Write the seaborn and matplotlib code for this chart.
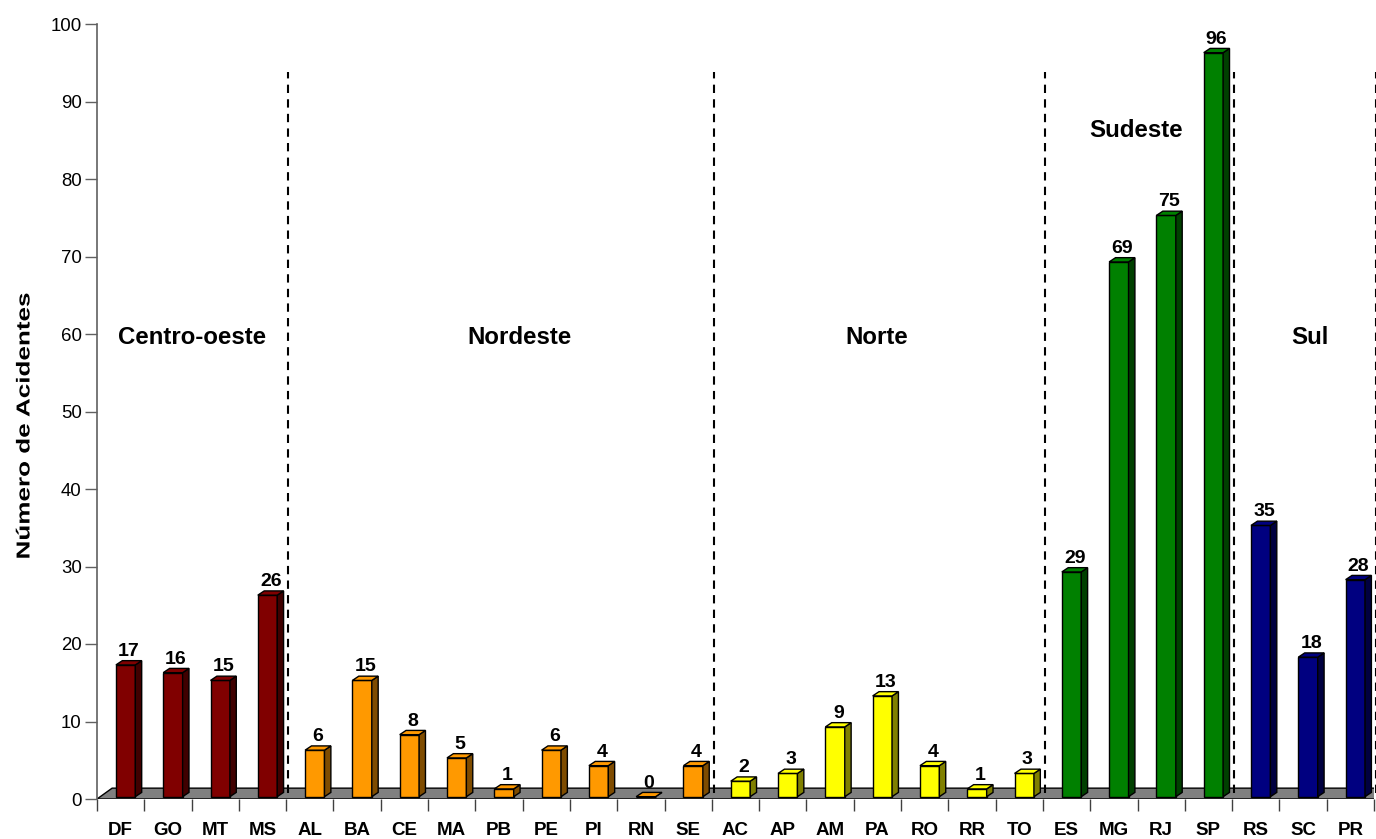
import matplotlib
matplotlib.use("Agg")
import matplotlib.pyplot as plt
from matplotlib.patches import Polygon
from matplotlib.patheffects import AbstractPathEffect
from matplotlib.transforms import Affine2D
import seaborn as sns
import pandas as pd

# Accidents per state, grouped by region
states = ["DF", "GO", "MT", "MS",
          "AL", "BA", "CE", "MA", "PB", "PE", "PI", "RN", "SE",
          "AC", "AP", "AM", "PA", "RO", "RR", "TO",
          "ES", "MG", "RJ", "SP",
          "RS", "SC", "PR"]
accidents = [17, 16, 15, 26,
             6, 15, 8, 5, 1, 6, 4, 0, 4,
             2, 3, 9, 13, 4, 1, 3,
             29, 69, 75, 96,
             35, 18, 28]
regions = (["Centro-oeste"] * 4 + ["Nordeste"] * 9 + ["Norte"] * 7
           + ["Sudeste"] * 4 + ["Sul"] * 3)
region_names = ["Centro-oeste", "Nordeste", "Norte", "Sudeste", "Sul"]
front_colors = ["#800000", "#FF9900", "#FFFF00", "#008000", "#000080"]
side_colors = ["#400000", "#7F4C00", "#808000", "#004000", "#000040"]
y_ticks = list(range(0, 101, 10))

# Region caption placement (x in category units, y in axis units)
caption_x = [1.5, 8.43, 15.99, 21.47, 25.14]
caption_y = [59.5, 59.5, 59.5, 86.3, 59.5]


class Stretch(AbstractPathEffect):
    """Stretch glyphs along the writing direction about the text centre."""

    def __init__(self, factor=1.0):
        super().__init__()
        self.factor = factor

    def draw_path(self, renderer, gc, tpath, affine, rgbFace=None):
        ext = tpath.get_extents()
        cx = 0.5 * (ext.x0 + ext.x1)
        scale = Affine2D().translate(-cx, 0).scale(self.factor, 1).translate(cx, 0)
        renderer.draw_path(gc, tpath, scale + affine, rgbFace)


df = pd.DataFrame({"estado": states, "acidentes": accidents, "regiao": regions})

sns.set_theme(style="white")
plt.rcParams["font.family"] = ["Liberation Sans", "DejaVu Sans"]
plt.rcParams["text.color"] = "black"
plt.rcParams["axes.labelcolor"] = "black"
plt.rcParams["xtick.color"] = "black"
plt.rcParams["ytick.color"] = "black"

fig = plt.figure(figsize=(13.76, 8.39), dpi=100)
ax = fig.add_axes([97 / 1376, 40 / 839, 1277 / 1376, 775 / 839])

# pseudo-3D geometry (data units)
bar_w = 0.41
bar_shift = 0.105    # bars sit a little right of the category centre
lift = 0.3           # bars stand slightly inside the floor
depth_x, depth_y = 0.135, 0.55
floor_dx, floor_dy = 0.32, 1.4
sep_shift = 0.04
n = len(states)

# grey floor slab
floor = Polygon([(-0.5, 0), (n - 0.5, 0), (n - 0.5 + floor_dx, floor_dy),
                 (-0.5 + floor_dx, floor_dy)], closed=True,
                facecolor="#808080", edgecolor="black", linewidth=1.0, zorder=1)
ax.add_patch(floor)

# dashed separators between regions
bounds = []
count = 0
for r in region_names:
    count += regions.count(r)
    bounds.append(count - 0.5 + sep_shift)
for b in bounds:
    ax.plot([b, b], [0.8, 93.8], color="black", linestyle=(0, (4, 3)),
            linewidth=1.5, zorder=2, clip_on=False)

palette = dict(zip(region_names, front_colors))
sns.barplot(data=df, x="estado", y="acidentes", hue="regiao", palette=palette,
            dodge=False, width=bar_w, legend=False, saturation=1,
            edgecolor="black", linewidth=1.0, ax=ax, zorder=3)

side_map = dict(zip(region_names, side_colors))
front_map = dict(zip(region_names, front_colors))
bars = sorted([p for p in ax.patches if p is not floor and p.get_width() > 0],
              key=lambda p: p.get_x())
for i, p in enumerate(bars):
    val = accidents[i]
    x0 = i + bar_shift - bar_w / 2
    p.set_x(x0)
    p.set_y(lift)
    p.set_height(val)
    p.set_zorder(3)
    reg = regions[i]
    top = lift + val
    x1 = x0 + bar_w
    side = Polygon([(x1, lift), (x1 + depth_x, lift + depth_y),
                    (x1 + depth_x, top + depth_y), (x1, top)], closed=True,
                   facecolor=side_map[reg], edgecolor="black", linewidth=1.0,
                   zorder=3)
    cap = Polygon([(x0, top), (x1, top), (x1 + depth_x, top + depth_y),
                   (x0 + depth_x, top + depth_y)], closed=True,
                  facecolor=front_map[reg], edgecolor="black", linewidth=1.0,
                  zorder=3)
    ax.add_patch(side)
    ax.add_patch(cap)
    ax.annotate(str(val), (x0 + bar_w / 2 + depth_x / 2, top + depth_y),
                xytext=(0, 3.5), textcoords="offset points", ha="center",
                va="baseline", fontsize=14, fontweight="bold", color="black",
                zorder=4)

for name, cx, cy in zip(region_names, caption_x, caption_y):
    ax.text(cx, cy, name, ha="center", va="center", fontsize=17.3,
            fontweight="bold", color="black")

ax.set_xlim(-0.5, n - 0.5)
ax.set_ylim(0, 100)
ax.set_yticks(y_ticks)
ax.set_yticklabels([str(t) for t in y_ticks], fontsize=13.4)
ax.set_xticks(range(n))
ax.set_xticklabels(states, fontsize=13.5, fontweight="bold")
ax.set_xticks([k - 0.5 for k in range(n + 1)], minor=True)
ax.tick_params(axis="x", which="major", length=0, pad=16.5, labelcolor="black")
ax.tick_params(axis="x", which="minor", length=8.6, width=1, color="#404040",
               direction="out", bottom=True)
ax.tick_params(axis="y", length=8.6, width=1, color="#606060", pad=2.4,
               direction="out", left=True, labelcolor="black")
ax.set_xlabel("")
ax.set_ylabel("Número de Acidentes", fontsize=13.5, fontweight="bold",
              color="black", va="center", rotation_mode="default",
              path_effects=[Stretch(1.39)])
ax.yaxis.set_label_coords(-0.0564, 0.481)

for s in ["top", "right", "bottom"]:
    ax.spines[s].set_visible(False)
ax.spines["left"].set_color("#606060")
ax.spines["left"].set_linewidth(1.2)
ax.grid(False)

fig.savefig("out.png", dpi=100)
